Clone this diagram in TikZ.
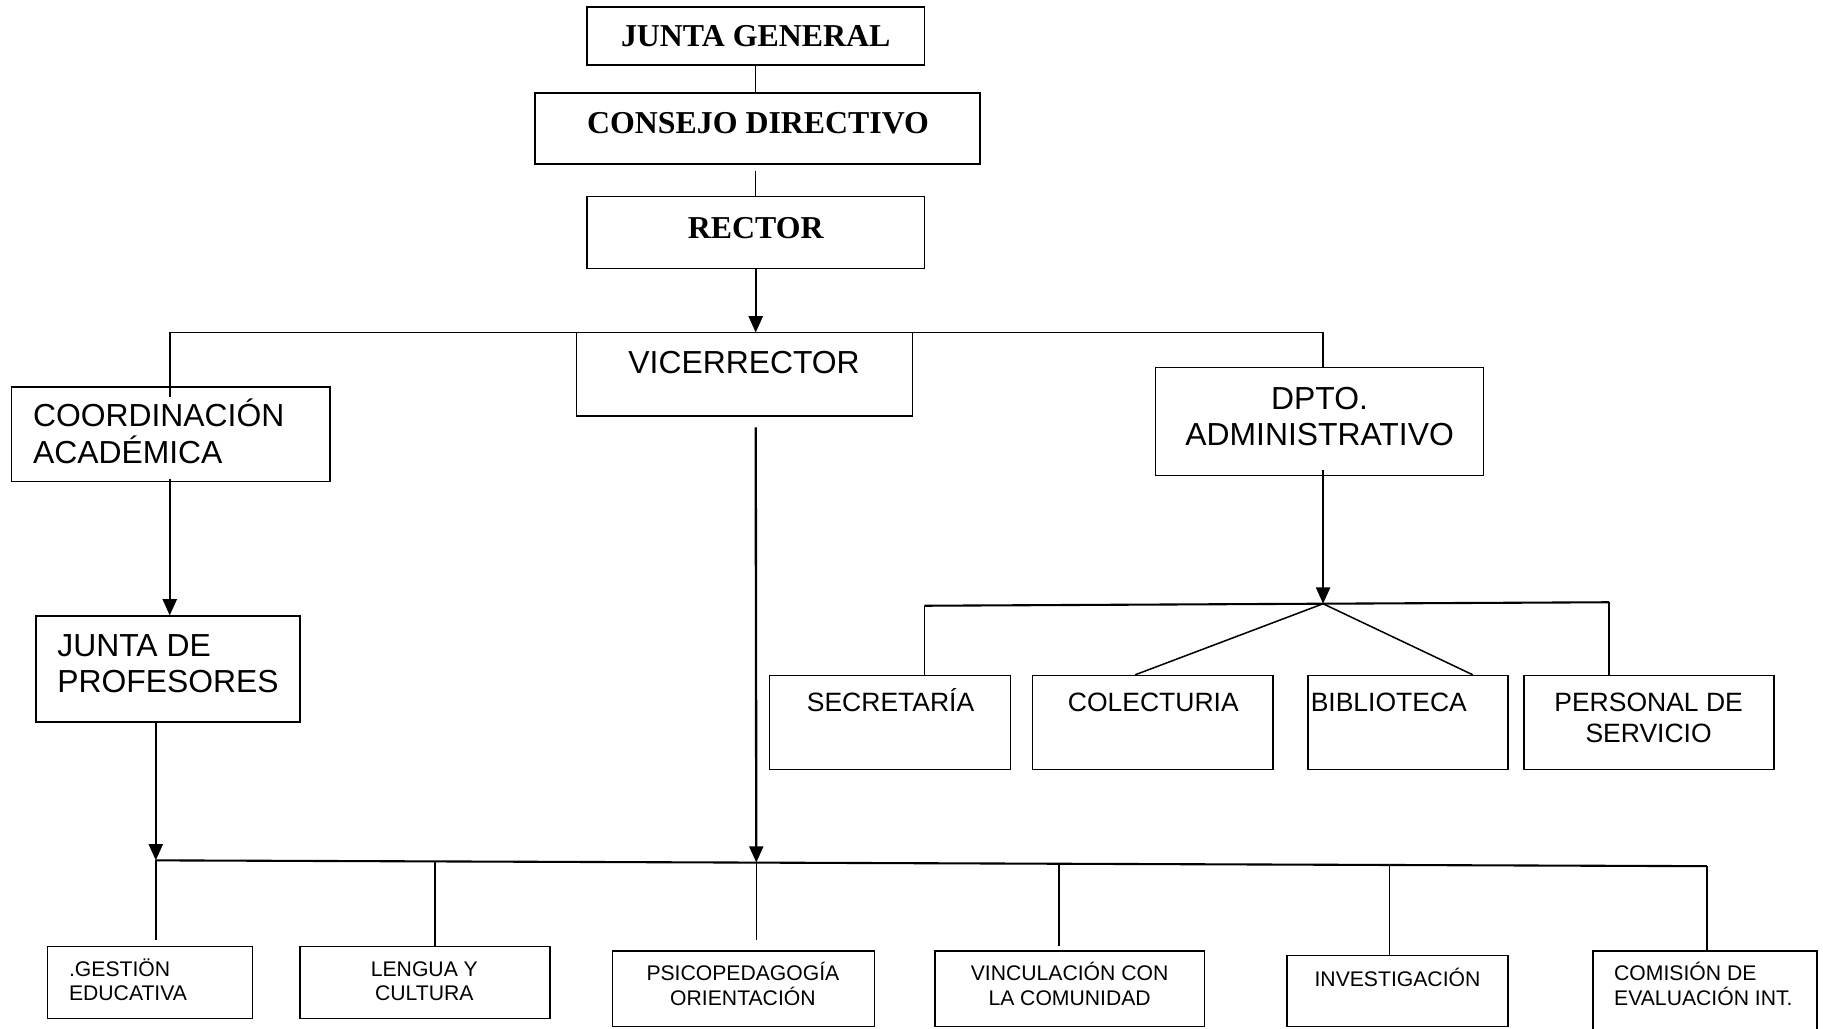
\documentclass[tikz,border=0pt]{standalone}
\usepackage{fontspec}
\setmainfont{Liberation Serif}
\setsansfont{Liberation Sans}
\usetikzlibrary{arrows.meta,fit,calc}
\begin{document}
\begin{tikzpicture}[x=0.5pt,y=-0.5pt,
 box/.style={draw, line width=0.65pt, inner sep=0pt},
 ttl/.style={font=\fontsize{13.7}{16}\selectfont\bfseries, anchor=base, inner sep=0pt},
 big/.style={font=\sffamily\fontsize{13.7}{16}\selectfont, anchor=base, inner sep=0pt},
 bigw/.style={big, anchor=base west},
 mid/.style={font=\sffamily\fontsize{11.4}{13}\selectfont, anchor=base, inner sep=0pt},
 midw/.style={mid, anchor=base west},
 sml/.style={font=\sffamily\fontsize{9.1}{11}\selectfont, anchor=base, inner sep=0pt},
 smlw/.style={sml, anchor=base west},
 ln/.style={line width=0.65pt},
 bar/.style={line width=0.9pt},
 arr/.style={line width=1pt, -{Triangle[width=6pt,length=7pt]}},
]
\clip (0,0) rectangle (1568,885);
\fill[white] (0,0) rectangle (1568,885);

% top chain
\node[box, fit={(505,6)(795,56)}] (jg) {};
\node[ttl] (tjg) at (650,40) {JUNTA GENERAL};
\node[box, fit={(460,80)(843,141)}] (cd) {};
\node[ttl] (tcd) at (652,115) {CONSEJO DIRECTIVO};
\node[box, fit={(505,169)(795,231)}] (rec) {};
\node[ttl] (trec) at (650,205) {RECTOR};

% second level
\node[box, fit={(496,286)(785,358)}] (vice) {};
\node[big] (tvice) at (640,321) {VICERRECTOR};
\node[box, fit={(10,333)(284,414)}] (coord) {};
\node[bigw] (tcoord1) at (28,367) {COORDINACIÓN};
\node[bigw] (tcoord2) at (28,399) {ACADÉMICA};
\node[box, fit={(994,316)(1276,409)}] (dpto) {};
\node[big] (tdpto1) at (1135,352) {DPTO.};
\node[big] (tdpto2) at (1135,383) {ADMINISTRATIVO};
\node[box, fit={(31,530)(258,621)}] (jp) {};
\node[bigw] (tjp1) at (49,565) {JUNTA DE};
\node[bigw] (tjp2) at (49,596) {PROFESORES};

% administrative units
\node[box, fit={(662,581)(869,662)}] (sec) {};
\node[mid] (tsec) at (766,612) {SECRETARÍA};
\node[box, fit={(888,581)(1095,662)}] (col) {};
\node[mid] (tcol) at (992,612) {COLECTURIA};
\node[box, fit={(1125,581)(1297,662)}] (bib) {};
\node[midw] (tbib) at (1127,612) {BIBLIOTECA};
\node[box, fit={(1311,581)(1526,662)}] (per) {};
\node[mid] (tper1) at (1418,612) {PERSONAL DE};
\node[mid] (tper2) at (1418,639) {SERVICIO};

% bottom units
\node[box, fit={(41,814)(217,876)}] (ges) {};
\node[smlw] (tges1) at (59,839.6) {.GESTIÖN};
\node[smlw] (tges2) at (59,860.6) {EDUCATIVA};
\node[box, fit={(258,814)(473,876)}] (len) {};
\node[sml] (tlen1) at (365,839.6) {LENGUA Y};
\node[sml] (tlen2) at (365,860.6) {CULTURA};
\node[box, fit={(527,818)(752,883)}] (psi) {};
\node[sml] (tpsi1) at (639,843.6) {PSICOPEDAGOGÍA};
\node[sml] (tpsi2) at (639,864.6) {ORIENTACIÓN};
\node[box, fit={(804,818)(1036,883)}] (vin) {};
\node[sml] (tvin1) at (920,843.6) {VINCULACIÓN CON};
\node[sml] (tvin2) at (920,864.6) {LA COMUNIDAD};
\node[box, fit={(1107,822)(1297,883)}] (inv) {};
\node[sml] (tinv) at (1202,848.6) {INVESTIGACIÓN};
\node[box, fit={(1370,818)(1563,900)}] (com) {};
\node[smlw] (tcom1) at (1388,843.6) {COMISIÓN DE};
\node[smlw] (tcom2) at (1388,864.6) {EVALUACIÓN INT.};

% coordinates of junctions
\coordinate (hubV) at (650,286);
\coordinate (hubD) at (1138,519.3);
\coordinate (sL) at (795,521);
\coordinate (sR) at (1384,518);
\coordinate (bL) at (134,740);
\coordinate (bR) at (1468,745);
\coordinate (b2) at (374,740.9);
\coordinate (bV) at (650.5,741.9);
\coordinate (b4) at (911,742.9);
\coordinate (b5) at (1195,744);

% top connectors
\draw[ln] (jg.south) -- (jg.south |- cd.north);
\draw[ln, shorten <=2.5pt] (rec.north |- cd.south) -- (rec.north);
\draw[arr] (rec.south) -- (hubV);
\draw[ln] ($(coord.north)+(-1,9)$) -- ($(coord.north |- hubV)+(-1,0)$) -- ($(dpto.north |- hubV)+(3,0)$) -- ($(dpto.north)+(3,0)$);

% left branch
\draw[arr] ($(coord.south)+(-1,-3)$) -- ($(coord.south |- jp.north)+(-1,0)$);
\draw[arr] ($(jp.south)+(-10.5,0)$) -- (bL);

% vicerrector branch
\draw[arr, shorten <=4.5pt] ($(vice.south)+(9.5,0)$) -- (bV);

% administrative branch
\draw[arr] ($(dpto.south)+(3,-5)$) -- (hubD);
\draw[bar] (sL) -- (sR);
\draw[ln] (sL) -- (sL |- sec.north);
\draw[ln] (sR) -- (sR |- per.north);
\draw[ln] (hubD) -- ($(col.north)+(-15,0)$);
\draw[ln] (hubD) -- ($(bib.north east)+(-31,0)$);

% bottom bar
\draw[bar] (bL) -- (bR);
\draw[ln, shorten >=2.5pt] (bL) -- (bL |- ges.north);
\draw[ln] (b2) -- (b2 |- len.north);
\draw[ln, shorten >=4.5pt] (bV) -- (bV |- psi.north);
\draw[ln, shorten >=2pt] (b4) -- (b4 |- vin.north);
\draw[ln] (b5) -- (b5 |- inv.north);
\draw[ln] (bR) -- (bR |- com.north);
\end{tikzpicture}
\end{document}
